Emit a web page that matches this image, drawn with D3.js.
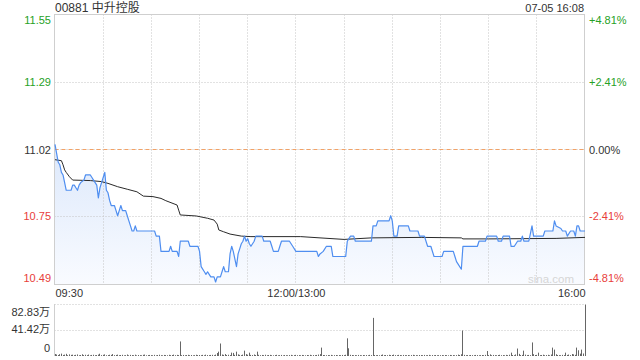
<!DOCTYPE html>
<html><head><meta charset="utf-8">
<script src="https://cdn.jsdelivr.net/npm/d3@7"></script>
<style>
body{margin:0;background:#fff}
svg{display:block}
text{font-family:"Liberation Sans",Arial,"Noto Sans CJK SC",sans-serif}
</style>
</head><body>
<svg id="c" width="640" height="360"></svg>
<script>
const title = "00881 中升控股";
const stamp = "07-05 16:08";
const prevClose = 11.02;
const priceTicks = [11.55, 11.285, 11.02, 10.755, 10.49];
const priceLabels = ["11.55", "11.29", "11.02", "10.75", "10.49"];
const pctLabels = ["+4.81%", "+2.41%", "0.00%", "-2.41%", "-4.81%"];
const timeTicks = [0, 150, 330];
const timeLabels = ["09:30", "12:00/13:00", "16:00"];
const gridTimes = [30, 60, 90, 120, 150, 180, 210, 240, 270, 300];
const volTicks = [82.83, 41.42, 0];
const volLabels = ["82.83万", "41.42万", "0"];

// minute index (0 = 09:30, 150 = 12:00/13:00, 330 = 16:00) and price
const priceTimes = [0,2,3,4,5,6,7,10,11,12,13,14,15,16,18,19,22,23,24,26,27,28,29,30,31,32,33,34,35,37,38,39,40,41,42,44,45,46,47,48,49,50,51,62,63,65,66,68,71,72,73,76,77,78,83,84,89,90,91,93,94,95,96,97,99,100,101,103,104,105,106,108,109,110,111,113,114,115,116,117,118,119,120,121,122,123,124,125,129,130,134,135,136,139,140,141,146,148,150,163,164,165,167,169,172,173,181,182,183,184,186,187,197,198,200,201,207,208,209,210,211,213,214,220,221,226,227,230,232,234,236,241,242,248,249,250,251,253,254,263,264,268,269,275,276,278,279,283,284,286,288,290,291,292,295,296,297,298,304,305,307,310,311,312,315,316,318,319,321,323,324,325,326,327,330];
const priceValues = [11.04,10.97,10.96,10.93,10.92,10.89,10.86,10.86,10.88,10.88,10.87,10.86,10.88,10.89,10.90,10.92,10.92,10.91,10.90,10.88,10.83,10.87,10.89,10.91,10.93,10.86,10.85,10.82,10.80,10.80,10.78,10.76,10.78,10.80,10.78,10.78,10.76,10.74,10.72,10.70,10.70,10.72,10.70,10.70,10.68,10.68,10.62,10.62,10.62,10.64,10.62,10.62,10.60,10.66,10.66,10.64,10.64,10.62,10.56,10.54,10.53,10.54,10.53,10.52,10.52,10.50,10.52,10.52,10.54,10.56,10.54,10.54,10.61,10.64,10.62,10.56,10.61,10.63,10.65,10.66,10.68,10.66,10.67,10.65,10.64,10.65,10.66,10.68,10.68,10.66,10.66,10.64,10.62,10.62,10.64,10.66,10.66,10.64,10.62,10.62,10.60,10.61,10.62,10.64,10.64,10.60,10.60,10.66,10.67,10.68,10.68,10.66,10.66,10.72,10.72,10.74,10.74,10.74,10.76,10.74,10.68,10.68,10.72,10.72,10.70,10.70,10.68,10.68,10.64,10.64,10.60,10.60,10.62,10.62,10.60,10.58,10.57,10.55,10.64,10.64,10.66,10.66,10.68,10.68,10.66,10.66,10.68,10.68,10.64,10.64,10.66,10.66,10.68,10.66,10.66,10.69,10.72,10.68,10.68,10.70,10.70,10.70,10.74,10.72,10.71,10.70,10.70,10.68,10.70,10.70,10.68,10.72,10.72,10.70,10.70];

const avgTimes = [0,4,5,6,7,9,11,22,29,33,39,45,51,55,61,66,69,76,77,78,88,95,99,101,102,105,109,116,122,153,165,180,197,228,253,254,270,312,330];
const avgValues = [10.98,10.976,10.96,10.94,10.93,10.913,10.90,10.898,10.894,10.887,10.874,10.864,10.854,10.837,10.835,10.828,10.819,10.802,10.782,10.763,10.759,10.75,10.743,10.727,10.704,10.697,10.688,10.68,10.678,10.678,10.673,10.667,10.673,10.675,10.673,10.669,10.669,10.671,10.675];

// volume per minute, in 万 shares (index 0..330)
const volumes = [
3.2,2.4,1.6,2.9,3.8,1.7,2.2,3.5,1.3,2.6,1.8,2.1,1.4,1.9,2.5,1.2,1.6,2.8,1.5,2.0,1.4,2.3,1.1,1.7,2.0,1.3,1.5,2.2,3.6,1.4,
1.9,2.6,1.2,1.5,2.0,1.8,3.1,1.4,1.7,2.2,1.3,1.6,1.9,1.1,1.4,2.4,1.2,1.8,1.5,1.3,2.1,1.0,1.6,1.4,1.2,1.9,2.3,1.1,1.5,1.7,
1.4,1.2,1.8,1.0,1.6,2.0,1.3,1.1,1.7,1.5,1.2,1.9,1.4,1.6,2.2,1.3,1.8,1.5,23.4,1.4,1.7,1.2,1.5,1.9,1.3,1.6,1.1,1.4,2.0,1.5,
1.6,1.3,1.8,1.2,2.1,1.5,1.4,1.7,1.9,1.3,2.2,4.8,7.0,20.1,2.4,1.8,3.1,1.6,2.0,1.5,5.4,5.0,1.9,7.0,2.6,1.8,1.4,2.2,8.6,3.0,
2.1,5.4,1.8,1.5,2.4,1.6,7.0,1.9,1.3,1.7,1.4,2.0,1.2,1.6,1.8,1.3,1.1,1.5,1.9,1.2,1.4,1.7,1.0,1.6,1.3,1.2,1.5,1.8,1.1,1.4,
1.8,1.3,1.5,1.2,1.7,1.4,1.1,1.6,1.3,1.9,1.2,1.5,1.4,1.7,2.3,3.0,13.5,1.6,1.4,1.2,1.5,1.3,1.8,1.1,1.4,1.6,1.2,1.5,1.3,1.7,
1.4,2.0,28.4,12.4,1.9,1.6,1.3,1.5,1.2,1.7,1.4,1.1,1.6,1.3,1.5,1.2,1.8,1.4,61.3,1.6,1.3,1.5,1.2,1.7,2.4,1.4,1.6,1.3,1.9,1.5,
1.6,2.2,1.4,1.3,1.8,1.5,1.2,1.7,1.4,1.3,1.6,1.1,1.5,1.9,1.3,1.4,1.2,1.6,1.5,1.3,1.7,1.2,1.4,1.8,1.1,1.5,1.3,1.6,1.2,1.4,
1.3,1.5,1.2,1.6,1.4,1.1,1.7,1.3,1.5,1.2,1.4,2.2,1.6,2.8,41.0,1.8,1.3,1.5,1.2,1.6,1.4,1.3,1.7,1.5,1.2,1.4,1.6,1.3,1.8,8.0,
1.5,2.6,1.3,1.7,1.4,1.2,1.6,1.9,1.3,1.5,1.2,1.8,1.4,2.0,5.4,1.6,1.3,2.5,12.0,3.4,1.5,1.8,8.6,2.2,1.4,1.7,1.3,21.8,2.9,1.6,
1.8,5.4,1.4,1.6,2.1,1.3,1.5,1.9,1.2,2.4,13.5,10.3,2.8,1.6,1.4,1.3,1.8,1.5,5.4,1.7,2.3,1.4,3.2,2.6,1.9,13.5,9.2,3.8,10.3,4.0,
82.83];

const GREEN = "#26a126", RED = "#e8403a", DARK = "#333";
const svg = d3.select("#c");
const x = d3.scaleLinear().domain([0, 330]).range([55, 585]);
const y = d3.scaleLinear().domain([10.49, 11.55]).range([284.5, 14.5]);
const yv = d3.scaleLinear().domain([0, 82.83]).range([356, 304.5]);
const crisp = v => Math.round(v - 0.5) + 0.5;

const defs = svg.append("defs");
const grad = defs.append("linearGradient").attr("id", "ag").attr("x1", 0).attr("y1", 0).attr("x2", 0).attr("y2", 1);
grad.append("stop").attr("offset", "0%").attr("stop-color", "#dce8fb");
grad.append("stop").attr("offset", "100%").attr("stop-color", "#f9fbff");

const priceData = priceTimes.map((t, i) => ({t, p: priceValues[i]}));
const avgData = avgTimes.map((t, i) => ({t, p: avgValues[i]}));

// area
svg.append("path").datum(priceData)
  .attr("fill", "url(#ag)")
  .attr("d", d3.area().x(d => x(d.t)).y0(284.5).y1(d => y(d.p)));

// grid
const g = svg.append("g").attr("stroke", "#c4c4c4").attr("stroke-width", 1).attr("stroke-dasharray", "1,2").attr("fill", "none");
g.selectAll("line.v").data(gridTimes).join("line")
  .attr("x1", d => crisp(x(d))).attr("x2", d => crisp(x(d)))
  .attr("y1", 14.5).attr("y2", 284.5);
g.selectAll("line.h").data(priceTicks.slice(1, 4)).join("line")
  .attr("x1", 54.5).attr("x2", 584.5)
  .attr("y1", d => crisp(y(d))).attr("y2", d => crisp(y(d)));
// prev close
svg.append("line").attr("x1", 54.5).attr("x2", 584.5)
  .attr("y1", crisp(y(prevClose))).attr("y2", crisp(y(prevClose)))
  .attr("stroke", "#f2a267").attr("stroke-dasharray", "4,3");

// border
svg.append("rect").attr("x", 54.5).attr("y", 14.5).attr("width", 530).attr("height", 270)
  .attr("fill", "none").attr("stroke", "#cfcfcf");

// watermark
svg.append("text").attr("x", 574).attr("y", 283).attr("text-anchor", "end")
  .attr("font-size", 11.5).attr("fill", "#d6d6d6").text("sina.com");

// avg line
svg.append("path").datum(avgData).attr("fill", "none").attr("stroke", "#2a2a2a").attr("stroke-width", 1)
  .attr("d", d3.line().x(d => x(d.t)).y(d => y(d.p)));
// price line
svg.append("path").datum(priceData).attr("fill", "none").attr("stroke", "#4f8ef0").attr("stroke-width", 1.2)
  .attr("stroke-linejoin", "round")
  .attr("d", d3.line().x(d => x(d.t)).y(d => y(d.p)));

// title
svg.append("text").attr("x", 55).attr("y", 12).attr("font-size", 12).attr("fill", DARK).text(title);
svg.append("text").attr("x", 584).attr("y", 12).attr("font-size", 11).attr("text-anchor", "end").attr("fill", DARK).text(stamp);

const colorFor = i => i < 2 ? GREEN : (i === 2 ? DARK : RED);
const shift = [5.5, 0, 0, -1, -6.5];

// left price axis
const la = svg.append("g").attr("transform", "translate(54,0)")
  .call(d3.axisLeft(y).tickValues(priceTicks).tickSize(0).tickPadding(3).tickFormat((d, i) => priceLabels[i]));
la.select(".domain").remove();
la.selectAll("text").attr("font-size", 11).attr("font-family", null)
  .attr("fill", (d, i) => colorFor(i)).attr("y", (d, i) => shift[i]);

// right pct axis
const ra = svg.append("g").attr("transform", "translate(585,0)")
  .call(d3.axisRight(y).tickValues(priceTicks).tickSize(0).tickPadding(4).tickFormat((d, i) => pctLabels[i]));
ra.select(".domain").remove();
ra.selectAll("text").attr("font-size", 11).attr("font-family", null)
  .attr("fill", (d, i) => colorFor(i)).attr("y", (d, i) => shift[i]);

// time axis
const ta = svg.append("g").attr("transform", "translate(0,284.5)")
  .call(d3.axisBottom(x).tickValues(timeTicks).tickSize(0).tickPadding(4.5).tickFormat((d, i) => timeLabels[i]));
ta.select(".domain").remove();
ta.selectAll("text").attr("font-size", 11).attr("font-family", null).attr("fill", DARK)
  .attr("text-anchor", (d, i) => i === 0 ? "start" : (i === 2 ? "end" : "middle"));

// volume panel
const vg = svg.append("g").attr("stroke", "#c4c4c4").attr("stroke-dasharray", "1,2");
vg.selectAll("line").data(volTicks.slice(0, 2)).join("line")
  .attr("x1", 54.5).attr("x2", 584.5)
  .attr("y1", d => crisp(yv(d))).attr("y2", d => crisp(yv(d)));
svg.append("line").attr("x1", 54.5).attr("x2", 54.5).attr("y1", 304).attr("y2", 356).attr("stroke", "#cfcfcf");

svg.append("g").selectAll("line").data(volumes).join("line")
  .attr("x1", (d, i) => crisp(x(i))).attr("x2", (d, i) => crisp(x(i)))
  .attr("y1", 356).attr("y2", d => yv(d))
  .attr("stroke", "#666").attr("stroke-width", 1);

const va = svg.append("g").attr("transform", "translate(54,0)")
  .call(d3.axisLeft(yv).tickValues(volTicks).tickSize(0).tickPadding(4).tickFormat((d, i) => volLabels[i]));
va.select(".domain").remove();
const vshift = [7, -1, -8];
va.selectAll("text").attr("font-size", 11).attr("font-family", null).attr("fill", DARK)
  .attr("y", (d, i) => vshift[i]);
</script>
</body></html>
